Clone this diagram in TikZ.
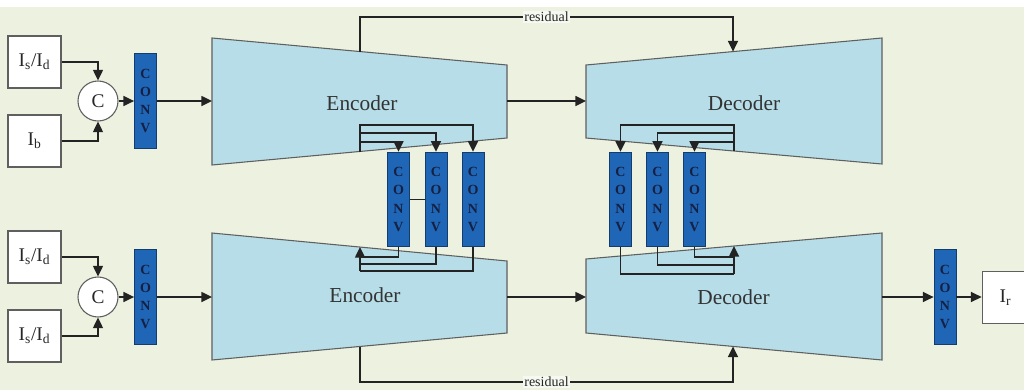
\documentclass[tikz,border=0pt]{standalone}
\usepackage{fontspec}
\setmainfont{Liberation Serif}
\usetikzlibrary{arrows.meta,calc}
\definecolor{bgc}{RGB}{236,241,224}
\definecolor{trapc}{RGB}{183,222,232}
\definecolor{convc}{RGB}{32,102,182}
\definecolor{convt}{RGB}{22,32,66}
\definecolor{linec}{RGB}{35,35,35}
\definecolor{edgec}{RGB}{95,95,95}
\tikzset{
  ln/.style={draw=linec, line width=1.1pt},
  arr/.style={ln, -{Triangle[length=8pt,width=7.5pt]}},
  trapz/.style={draw=edgec, fill=trapc, line width=0.8pt},
  convbox/.style={draw=convc!60!black, fill=convc, line width=0.6pt, minimum width=16.5pt, minimum height=71pt, inner sep=0pt, align=center, text=convt, font=\bfseries\fontsize{10.5}{13.6}\selectfont},
  imgbox/.style={draw=edgec, fill=white, line width=0.8pt, minimum width=39.75pt, minimum height=39pt, inner sep=0pt, font=\fontsize{14.5}{16}\selectfont, text=black!85},
  catc/.style={circle, draw=edgec, fill=white, line width=0.8pt, minimum size=30pt, inner sep=0pt, font=\fontsize{14.5}{16}\selectfont, text=black!85},
  blocklbl/.style={font=\fontsize{16}{18}\selectfont, text=black!80},
  lbl/.style={fill=white!55!bgc, inner sep=1pt, font=\fontsize{10.5}{12}\selectfont, text=black!85}
}
\begin{document}
\begin{tikzpicture}[x=0.75pt,y=-0.75pt]
\useasboundingbox (0,0) rectangle (1024,390);
\fill[white] (0,0) rectangle (1024,390);
\fill[bgc] (0,7) rectangle (1024,390);

% ---------- trapezoids ----------
\draw[trapz] (212,38) -- (507,65) -- (507,138) -- (212,165) -- cycle;
\draw[trapz] (586,65) -- (882,38) -- (882,164) -- (586,138) -- cycle;
\draw[trapz] (212,233) -- (507,261) -- (507,333) -- (212,360) -- cycle;
\draw[trapz] (586,259) -- (882,233) -- (882,360) -- (586,333) -- cycle;

\node[blocklbl] (enc1) at (362,103) {Encoder};
\node[blocklbl] (dec1) at (744,103) {Decoder};
\node[blocklbl] (enc2) at (365,295) {Encoder};
\node[blocklbl] (dec2) at (733.5,297) {Decoder};

% connection points on trapezoids
\coordinate (e1w) at (212,101);
\coordinate (e1e) at (507,101);
\coordinate (d1w) at (586,101);
\coordinate (e2w) at (212,297);
\coordinate (e2e) at (507,297);
\coordinate (d2w) at (586,297);
\coordinate (d2e) at (882,297);
\coordinate (e1top) at (360,51.5);
\coordinate (d1top) at (733,51.6);
\coordinate (e2bot) at (360,346.5);
\coordinate (d2bot) at (733,346.4);
\coordinate (e1bot) at (360,151.5);
\coordinate (e2top) at (360,247);
\coordinate (d1bot) at (734,151);
\coordinate (d2top) at (734,246);

% ---------- left inputs (top) ----------
\node[imgbox] (in1) at (34.5,62) {I\textsubscript{s}/I\textsubscript{d}};
\node[imgbox] (in2) at (34.5,141) {I\textsubscript{b}};
\node[catc] (cat1) at (98,101) {C};
\node[convbox] (cv1) at (145.5,101) {C\\O\\N\\V};

% ---------- left inputs (bottom) ----------
\node[imgbox] (in3) at (34.5,257) {I\textsubscript{s}/I\textsubscript{d}};
\node[imgbox] (in4) at (34.5,336) {I\textsubscript{s}/I\textsubscript{d}};
\node[catc] (cat2) at (98,297) {C};
\node[convbox] (cv2) at (145.5,297) {C\\O\\N\\V};

% ---------- middle convs ----------
\node[convbox] (ec1) at (398.5,199.5) {C\\O\\N\\V};
\node[convbox] (ec2) at (436,199.5) {C\\O\\N\\V};
\node[convbox] (ec3) at (473,199.5) {C\\O\\N\\V};
\node[convbox] (dc1) at (620.5,199.5) {C\\O\\N\\V};
\node[convbox] (dc2) at (657.5,199.5) {C\\O\\N\\V};
\node[convbox] (dc3) at (694.5,199.5) {C\\O\\N\\V};

% ---------- output ----------
\node[convbox] (cvo) at (945,297) {C\\O\\N\\V};
\node[imgbox, minimum width=35pt] (out) at (1005.5,297.5) {I\textsubscript{r}};

% ---------- connectors: inputs ----------
\draw[arr] (in1.east) -| (cat1.north);
\draw[arr] (in2.east) -| (cat1.south);
\draw[arr] (cat1.east) -- (cv1.west |- cat1.east);
\draw[arr] (cv1.east |- e1w) -- (e1w);
\draw[arr] (in3.east) -| (cat2.north);
\draw[arr] (in4.east) -| (cat2.south);
\draw[arr] (cat2.east) -- (cv2.west |- cat2.east);
\draw[arr] (cv2.east |- e2w) -- (e2w);

% encoder -> decoder
\draw[arr] (e1e) -- (d1w);
\draw[arr] (e2e) -- (d2w);

% decoder -> output
\draw[arr] (d2e) -- (cvo.west |- d2e);
\draw[arr] (cvo.east |- d2e) -- (out.west |- d2e);

% residuals
\draw[arr] (e1top) -- (360,17) -- node[lbl] {residual} (733,17) -- (d1top);
\draw[arr] (e2bot) -- (360,382) -- node[lbl] {residual} (733,382) -- (d2bot);

% encoder skip convs
\draw[arr] (e1bot) -- (360,125) -| (ec3.north);
\draw[arr] (360,133) -| (ec2.north);
\draw[arr] (360,142) -| (ec1.north);
\draw[ln] (ec1.east) -- (ec2.west);
\draw[ln] (ec1.south) |- (360,257);
\draw[ln] (ec2.south) |- (360,264);
\draw[ln] (ec3.south) |- (360,271);
\draw[arr] (360,271) -- (e2top);

% decoder skip convs
\draw[arr] (d1bot) -- (734,125) -| (dc1.north);
\draw[arr] (734,133) -| (dc2.north);
\draw[arr] (734,142) -| (dc3.north);
\draw[ln] (dc1.south) |- (734,274);
\draw[ln] (dc2.south) |- (734,265);
\draw[ln] (dc3.south) |- (734,257);
\draw[arr] (734,274) -- (d2top);
\end{tikzpicture}
\end{document}
